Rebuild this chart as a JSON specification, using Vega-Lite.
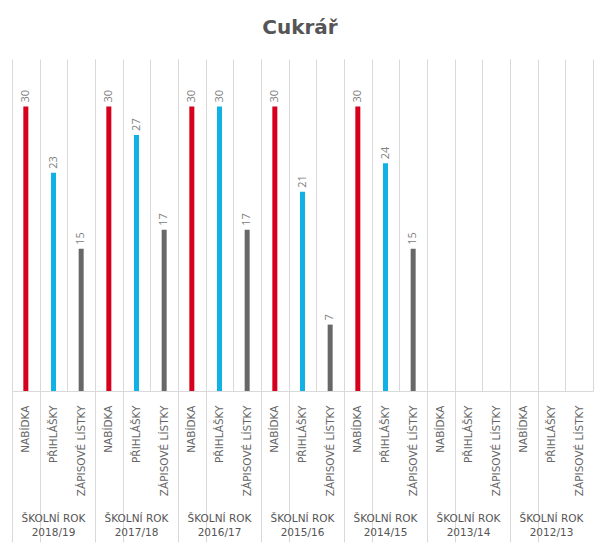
{
  "$schema": "https://vega.github.io/schema/vega-lite/v6.json",
  "padding": {"left": 7, "top": 18, "right": 5, "bottom": 5},
  "background": "white",
  "title": {"text": "Cukrář", "fontSize": 20, "font": "DejaVu Sans", "fontWeight": "bold", "color": "#555555", "anchor": "middle", "offset": 21},
  "data": {"values": [
    {"rok": "2018/19", "kat": "NABÍDKA", "pocet": 30},
    {"rok": "2018/19", "kat": "PŘIHLÁŠKY", "pocet": 23},
    {"rok": "2018/19", "kat": "ZÁPISOVÉ LÍSTKY", "pocet": 15},
    {"rok": "2017/18", "kat": "NABÍDKA", "pocet": 30},
    {"rok": "2017/18", "kat": "PŘIHLÁŠKY", "pocet": 27},
    {"rok": "2017/18", "kat": "ZÁPISOVÉ LÍSTKY", "pocet": 17},
    {"rok": "2016/17", "kat": "NABÍDKA", "pocet": 30},
    {"rok": "2016/17", "kat": "PŘIHLÁŠKY", "pocet": 30},
    {"rok": "2016/17", "kat": "ZÁPISOVÉ LÍSTKY", "pocet": 17},
    {"rok": "2015/16", "kat": "NABÍDKA", "pocet": 30},
    {"rok": "2015/16", "kat": "PŘIHLÁŠKY", "pocet": 21},
    {"rok": "2015/16", "kat": "ZÁPISOVÉ LÍSTKY", "pocet": 7},
    {"rok": "2014/15", "kat": "NABÍDKA", "pocet": 30},
    {"rok": "2014/15", "kat": "PŘIHLÁŠKY", "pocet": 24},
    {"rok": "2014/15", "kat": "ZÁPISOVÉ LÍSTKY", "pocet": 15},
    {"rok": "2013/14", "kat": "NABÍDKA", "pocet": null},
    {"rok": "2013/14", "kat": "PŘIHLÁŠKY", "pocet": null},
    {"rok": "2013/14", "kat": "ZÁPISOVÉ LÍSTKY", "pocet": null},
    {"rok": "2012/13", "kat": "NABÍDKA", "pocet": null},
    {"rok": "2012/13", "kat": "PŘIHLÁŠKY", "pocet": null},
    {"rok": "2012/13", "kat": "ZÁPISOVÉ LÍSTKY", "pocet": null}
  ]},
  "facet": {
    "column": {
      "field": "rok", "type": "nominal",
      "sort": ["2018/19", "2017/18", "2016/17", "2015/16", "2014/15", "2013/14", "2012/13"],
      "title": null,
      "header": {
        "labelOrient": "bottom",
        "labelExpr": "['ŠKOLNÍ ROK', datum.value]",
        "labelFont": "DejaVu Sans",
        "labelFontSize": 10.5,
        "labelColor": "#555555",
        "labelLineHeight": 14,
        "labelPadding": -29
      }
    }
  },
  "spacing": 0,
  "spec": {
    "width": 83,
    "height": 332,
    "encoding": {
      "x": {
        "field": "kat", "type": "nominal",
        "sort": ["NABÍDKA", "PŘIHLÁŠKY", "ZÁPISOVÉ LÍSTKY"],
        "scale": {"domain": ["NABÍDKA", "PŘIHLÁŠKY", "ZÁPISOVÉ LÍSTKY"], "paddingInner": 0, "paddingOuter": 0},
        "axis": {
          "title": null, "labelAngle": -90, "grid": true, "tickBand": "extent",
          "ticks": true, "tickSize": 151, "tickColor": "#d9d9d9",
          "tickOpacity": {"condition": {"test": "datum.value === 'NABÍDKA' || datum.extra", "value": 1}, "value": 0},
          "gridColor": "#d9d9d9", "domainColor": "#d9d9d9", "labelPadding": -137,
          "labelFont": "DejaVu Sans", "labelFontSize": 10.5, "labelColor": "#666666"
        }
      },
      "y": {"field": "pocet", "type": "quantitative", "scale": {"domain": [0, 35]}, "axis": null}
    },
    "layer": [
      {
        "mark": {"type": "bar", "width": 5},
        "encoding": {
          "color": {
            "field": "kat", "type": "nominal",
            "scale": {"domain": ["NABÍDKA", "PŘIHLÁŠKY", "ZÁPISOVÉ LÍSTKY"], "range": ["#d6001c", "#10b2e6", "#686868"]},
            "legend": null
          }
        }
      },
      {
        "mark": {"type": "text", "angle": -90, "align": "left", "baseline": "middle", "dx": 4, "font": "Open Sans", "fontSize": 11, "color": "#808080"},
        "encoding": {"text": {"field": "pocet", "type": "quantitative"}}
      }
    ]
  },
  "config": {"view": {"stroke": null}}
}
